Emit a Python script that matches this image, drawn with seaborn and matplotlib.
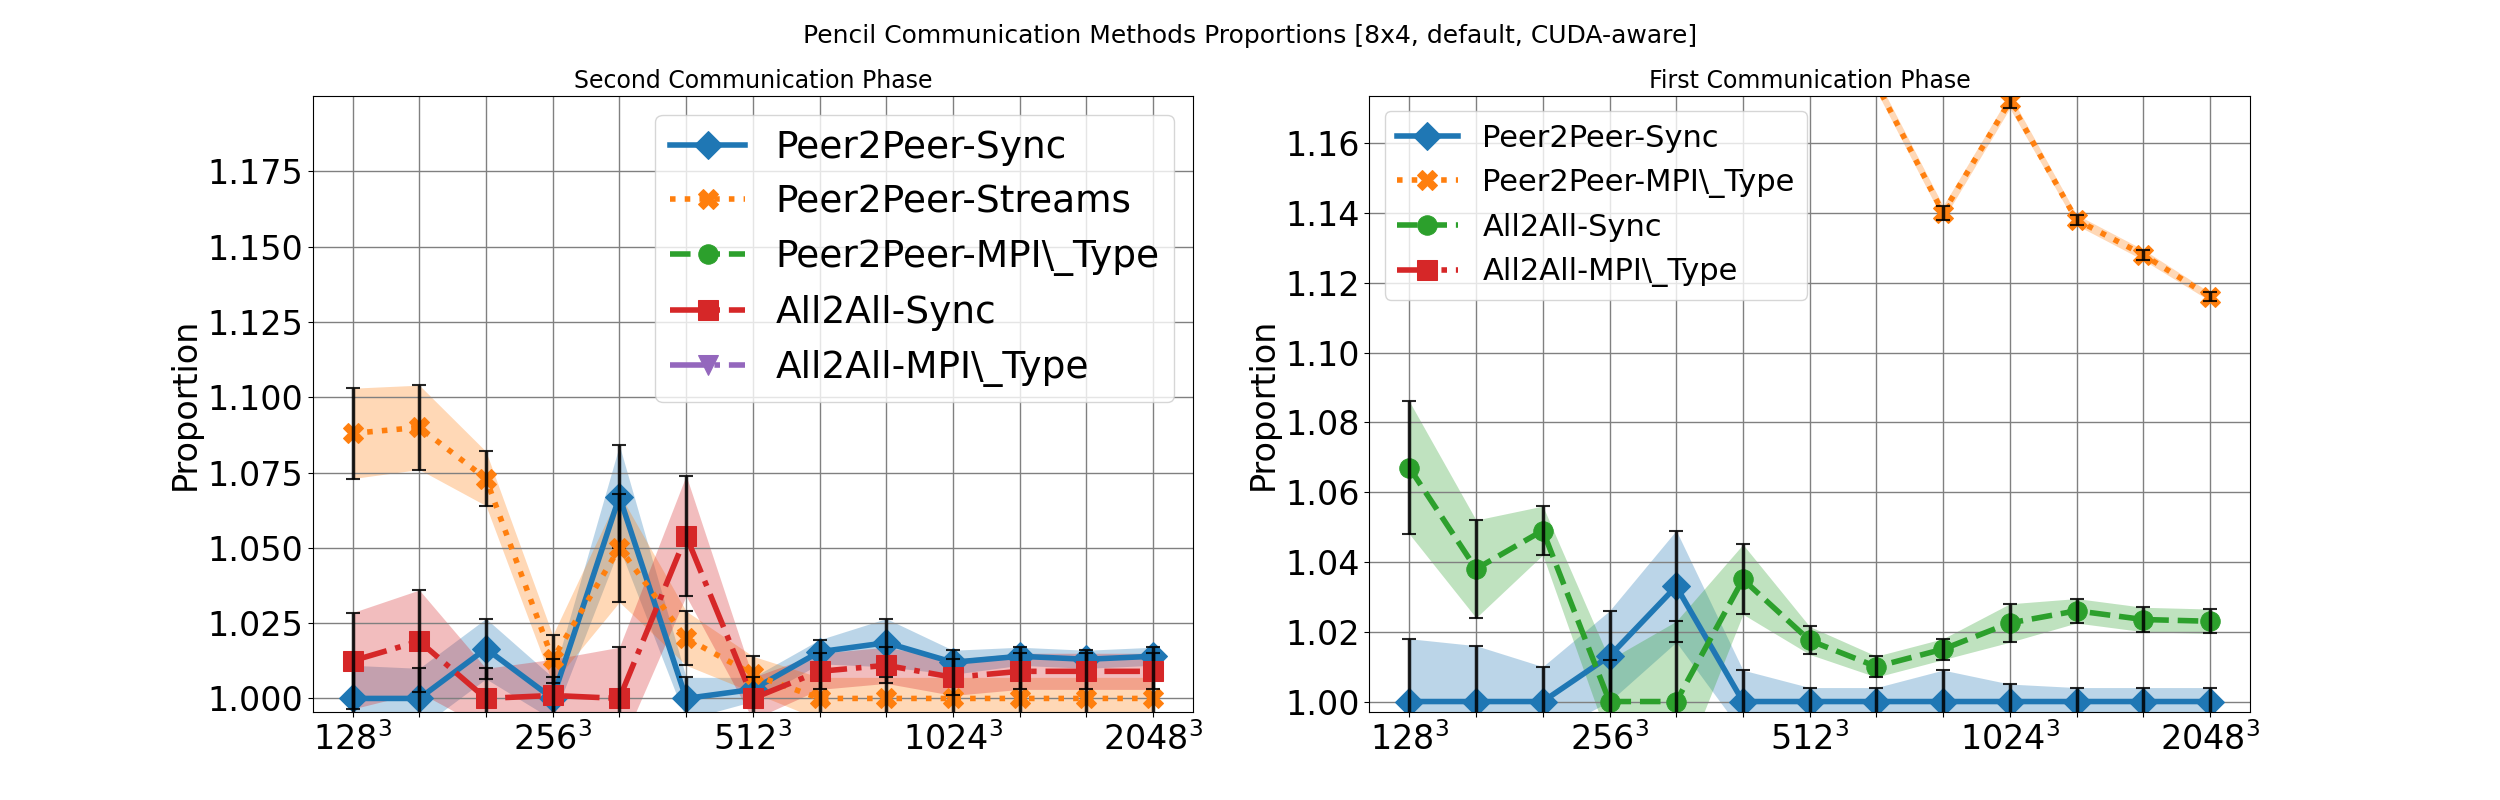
import numpy as np
import pandas as pd
import matplotlib
matplotlib.use("Agg")
import matplotlib.pyplot as plt
import seaborn as sns

# grid sizes (cube edge), half steps in log2
sizes = [128, 161, 203, 256, 322, 406, 512, 645, 812, 1024, 1290, 1625, 2048]
tick_labels = ['$128^3$', '', '', '$256^3$', '', '', '$512^3$', '', '', '$1024^3$', '', '', '$2048^3$']

# ---- Second communication phase ----
second_names = ['Peer2Peer-Sync', 'Peer2Peer-Streams', 'Peer2Peer-MPI\\_Type', 'All2All-Sync', 'All2All-MPI\\_Type']
second_p2p_sync = [1.000, 1.000, 1.0165, 1.000, 1.067, 1.000, 1.003, 1.0155, 1.0185, 1.012, 1.014, 1.013, 1.014]
second_p2p_sync_err = [0.011, 0.010, 0.010, 0.007, 0.017, 0.007, 0.004, 0.004, 0.008, 0.004, 0.003, 0.003, 0.003]
second_p2p_streams = [1.088, 1.090, 1.073, 1.013, 1.050, 1.020, 1.008, 1.000, 1.000, 1.000, 1.000, 1.000, 1.000]
second_p2p_streams_err = [0.015, 0.014, 0.009, 0.008, 0.018, 0.009, 0.006, 0.007, 0.007, 0.007, 0.007, 0.007, 0.007]
second_p2p_mpi = [1.30] * 13
second_p2p_mpi_err = [0.0] * 13
second_a2a_sync = [1.0125, 1.019, 1.000, 1.001, 1.000, 1.054, 1.000, 1.009, 1.011, 1.007, 1.009, 1.009, 1.009]
second_a2a_sync_err = [0.016, 0.017, 0.010, 0.012, 0.017, 0.020, 0.007, 0.006, 0.006, 0.006, 0.006, 0.006, 0.006]
second_a2a_mpi = [1.30] * 13
second_a2a_mpi_err = [0.0] * 13

# ---- First communication phase ----
first_names = ['Peer2Peer-Sync', 'Peer2Peer-MPI\\_Type', 'All2All-Sync', 'All2All-MPI\\_Type']
first_p2p_sync = [1.000, 1.000, 1.000, 1.013, 1.033, 1.000, 1.000, 1.000, 1.000, 1.000, 1.000, 1.000, 1.000]
first_p2p_sync_err = [0.018, 0.016, 0.010, 0.013, 0.016, 0.009, 0.004, 0.004, 0.009, 0.005, 0.004, 0.004, 0.004]
first_p2p_mpi = [1.30, 1.29, 1.27, 1.25, 1.23, 1.21, 1.19, 1.177, 1.140, 1.172, 1.138, 1.128, 1.116]
first_p2p_mpi_err = [0.002, 0.002, 0.002, 0.002, 0.002, 0.002, 0.002, 0.002, 0.002, 0.002, 0.0015, 0.0015, 0.0012]
first_a2a_sync = [1.067, 1.038, 1.049, 1.000, 1.000, 1.035, 1.0175, 1.010, 1.015, 1.0225, 1.026, 1.0235, 1.023]
first_a2a_sync_err = [0.019, 0.014, 0.007, 0.012, 0.023, 0.010, 0.004, 0.003, 0.003, 0.0055, 0.0035, 0.0035, 0.0035]
first_a2a_mpi = [1.30] * 13
first_a2a_mpi_err = [0.0] * 13

pal = sns.color_palette("tab10")
styles = [('D', '-'), ('X', ':'), ('o', '--'), ('s', '-.'), ('v', '-.')]

fig, axes = plt.subplots(1, 2, figsize=(25, 8))
x = np.arange(len(sizes))


def draw(ax, names, series, colors, styl, legend_size, legend_loc):
    for name, (vals, err), c, (mk, ls) in zip(names, series, colors, styl):
        vals = np.array(vals)
        err = np.array(err)
        df = pd.DataFrame({'x': x, 'y': vals})
        sns.lineplot(data=df, x='x', y='y', ax=ax, color=c, marker=mk, linestyle=ls,
                     linewidth=4, markersize=14, markeredgecolor=c, label=name)
        ax.fill_between(x, vals - err, vals + err, color=c, alpha=0.3, linewidth=0)
        ax.errorbar(x, vals, yerr=err, fmt='none', ecolor='black', elinewidth=2.5,
                    capsize=5, capthick=1.5, alpha=0.85)
    ax.set_xticks(x)
    ax.set_xticklabels(tick_labels)
    ax.tick_params(labelsize=24)
    ax.grid(True, color='gray', linewidth=1)
    ax.set_xlabel('')
    ax.set_ylabel('Proportion', fontsize=24)
    ax.legend(fontsize=legend_size, loc=legend_loc)


ax = axes[0]
draw(ax, second_names,
     [(second_p2p_sync, second_p2p_sync_err), (second_p2p_streams, second_p2p_streams_err),
      (second_p2p_mpi, second_p2p_mpi_err), (second_a2a_sync, second_a2a_sync_err),
      (second_a2a_mpi, second_a2a_mpi_err)],
     pal[:5], styles, 27, 'upper right')
ax.set_ylim(0.9955, 1.2)
ax.set_yticks([1.000, 1.025, 1.050, 1.075, 1.100, 1.125, 1.150, 1.175])
ax.set_title('Second Communication Phase', fontsize=17)

ax = axes[1]
draw(ax, first_names,
     [(first_p2p_sync, first_p2p_sync_err), (first_p2p_mpi, first_p2p_mpi_err),
      (first_a2a_sync, first_a2a_sync_err), (first_a2a_mpi, first_a2a_mpi_err)],
     pal[:4], styles[:4], 22, 'upper left')
ax.set_ylim(0.997, 1.1735)
ax.set_yticks([1.00, 1.02, 1.04, 1.06, 1.08, 1.10, 1.12, 1.14, 1.16])
ax.set_title('First Communication Phase', fontsize=17)

fig.suptitle('Pencil Communication Methods Proportions [8x4, default, CUDA-aware]', fontsize=18, y=0.97)
fig.savefig('out.png', dpi=100)
